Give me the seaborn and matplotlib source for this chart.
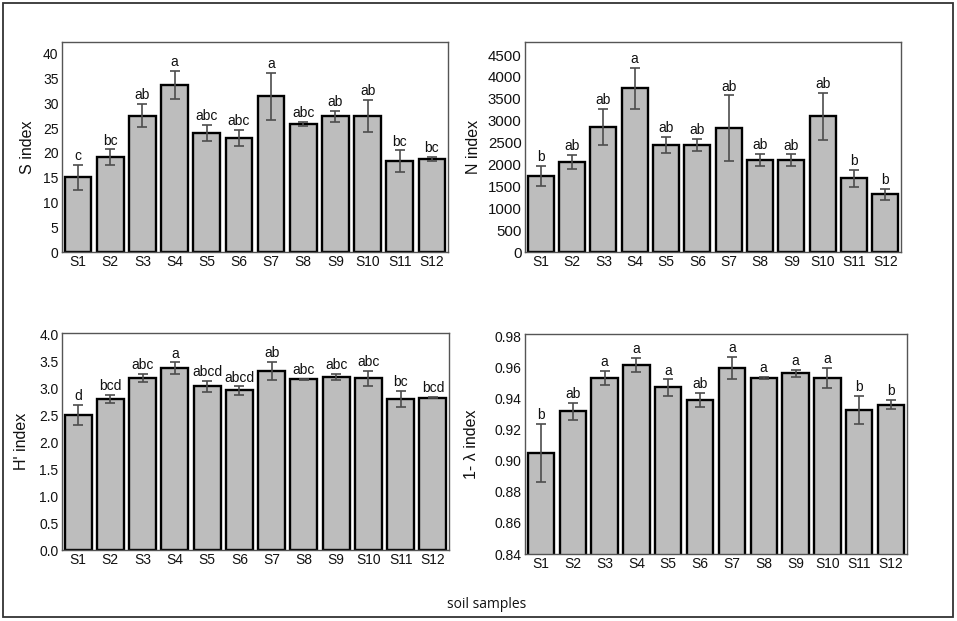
import matplotlib
matplotlib.use("Agg")
import matplotlib.pyplot as plt
import matplotlib.patches as mpatches
import seaborn as sns
import pandas as pd

samples = ["S1", "S2", "S3", "S4", "S5", "S6", "S7", "S8", "S9", "S10", "S11", "S12"]

s_values = [15.1, 19.1, 27.5, 33.7, 24.1, 23.0, 31.4, 25.9, 27.4, 27.5, 18.3, 18.8]
s_errors = [2.5, 1.6, 2.35, 2.9, 1.6, 1.6, 4.75, 0.4, 1.15, 3.2, 2.2, 0.4]
s_letters = ["c", "bc", "ab", "a", "abc", "abc", "a", "abc", "ab", "ab", "bc", "bc"]

n_values = [1735, 2065, 2860, 3740, 2450, 2450, 2830, 2100, 2100, 3100, 1685, 1325]
n_errors = [235, 160, 415, 470, 190, 130, 750, 145, 130, 530, 190, 125]
n_letters = ["b", "ab", "ab", "a", "ab", "ab", "ab", "ab", "ab", "ab", "b", "b"]

h_values = [2.507, 2.793, 3.185, 3.366, 3.03, 2.955, 3.316, 3.16, 3.204, 3.179, 2.793, 2.824]
h_errors = [0.187, 0.075, 0.075, 0.109, 0.097, 0.075, 0.171, 0.009, 0.05, 0.134, 0.146, 0.013]
h_letters = ["d", "bcd", "abc", "a", "abcd", "abcd", "ab", "abc", "abc", "abc", "bc", "bcd"]

l_values = [0.9052, 0.9317, 0.9533, 0.9616, 0.9471, 0.9390, 0.9596, 0.9533, 0.9562, 0.9533, 0.9325, 0.9360]
l_errors = [0.0187, 0.0053, 0.0043, 0.0043, 0.0052, 0.0046, 0.0070, 0.0005, 0.0022, 0.0064, 0.0091, 0.0029]
l_letters = ["b", "ab", "a", "a", "a", "ab", "a", "a", "a", "a", "b", "b"]

y_labels = ["S index", "N index", "H' index", "1- λ index"]
x_title = "soil samples"

sns.set_theme(style="white")
plt.rcParams["font.family"] = ["Liberation Sans", "DejaVu Sans"]

fig = plt.figure(figsize=(9.57, 6.21), dpi=100)

W, H = 957, 621
def axes_px(left, top, right, bottom):
    return fig.add_axes([left / W, 1 - bottom / H, (right - left) / W, (bottom - top) / H])

panels = [
    (axes_px(62, 42, 448, 252), s_values, s_errors, s_letters, y_labels[0], (0, 42.4),
     [0, 5, 10, 15, 20, 25, 30, 35, 40], None, 10, 6),
    (axes_px(525, 42, 901, 252), n_values, n_errors, n_letters, y_labels[1], (0, 4800),
     list(range(0, 4501, 500)), None, 10.8, 5),
    (axes_px(62, 333, 449, 550), h_values, h_errors, h_letters, y_labels[2], (0, 4.02),
     [0.0, 0.5, 1.0, 1.5, 2.0, 2.5, 3.0, 3.5, 4.0], "{:.1f}", 10, 7),
    (axes_px(525, 334, 907, 554), l_values, l_errors, l_letters, y_labels[3], (0.84, 0.9815),
     [0.84, 0.86, 0.88, 0.90, 0.92, 0.94, 0.96, 0.98], "{:.2f}", 10, 11),
]

for ax, vals, errs, letters, ylab, ylim, yticks, fmt, ysize, lpad in panels:
    df = pd.DataFrame({"sample": samples, "value": vals})
    sns.barplot(data=df, x="sample", y="value", color="#bdbdbd", saturation=1,
                edgecolor="black", linewidth=1.7, width=0.83, errorbar=None, ax=ax)
    ax.errorbar(x=list(range(len(samples))), y=vals, yerr=errs, fmt="none",
                ecolor="#4d4d4d", elinewidth=1.2, capsize=3.3, capthick=1.2, zorder=5)
    for i, (v, e, t) in enumerate(zip(vals, errs, letters)):
        ax.annotate(t, (i, v + e), xytext=(0, 3.5), textcoords="offset points",
                    ha="center", va="baseline", fontsize=10, color="#111111")
    ax.set_xlim(-0.5, len(samples) - 0.5)
    ax.set_ylim(*ylim)
    ax.set_yticks(yticks)
    if fmt:
        ax.set_yticklabels([fmt.format(t) for t in yticks])
    ax.set_xlabel("")
    ax.set_ylabel(ylab, fontsize=11.5, color="#111111", labelpad=lpad)
    ax.tick_params(axis="x", length=0, labelsize=10, colors="#111111", pad=2.5)
    ax.tick_params(axis="y", length=0, labelsize=ysize, colors="#111111", pad=2.5)
    for sp in ax.spines.values():
        sp.set_color("#555555")
        sp.set_linewidth(1.0)
        sp.set_visible(True)

fig.text(487 / W, 1 - 604 / H, x_title, ha="center", va="center", fontsize=10,
         family=["Open Sans", "DejaVu Sans"], color="#111111")

frame = mpatches.Rectangle((3 / W, 4 / H), 950 / W, 614 / H, transform=fig.transFigure,
                           fill=False, edgecolor="#333333", linewidth=1.3)
fig.patches.append(frame)

fig.savefig("out.png", dpi=100)
